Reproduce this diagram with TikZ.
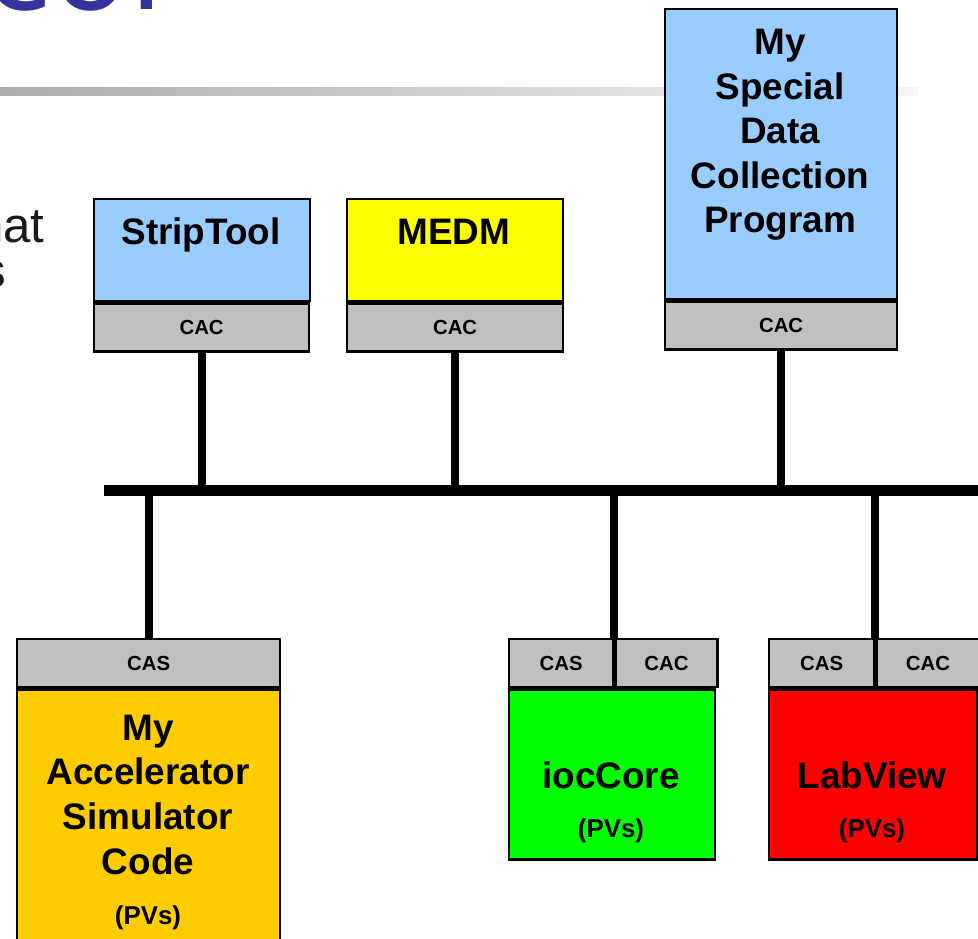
\documentclass[tikz,border=0pt]{standalone}
\usepackage{fontspec}
\setmainfont{Liberation Sans}
\newfontfamily\titlefont{DejaVu Sans}
\usetikzlibrary{positioning}
\definecolor{appblue}{HTML}{99CCFF}
\definecolor{appyellow}{HTML}{FFFF00}
\definecolor{apporange}{HTML}{FFCC00}
\definecolor{appgreen}{HTML}{00FF00}
\definecolor{appred}{HTML}{FF0000}
\definecolor{cagray}{HTML}{C0C0C0}
\definecolor{titleblue}{HTML}{333399}

\begin{document}
\begin{tikzpicture}[x=0.02cm, y=-0.02cm,
	app/.style={draw, line width=1.3pt, inner sep=0pt, anchor=north west},
	ca/.style={draw, line width=1.3pt, fill=cagray, inner sep=0pt, minimum height=0.96cm, anchor=north west, font=\bfseries\fontsize{11.6}{13}\selectfont},
	apptext/.style={font=\bfseries\fontsize{21}{25.4}\selectfont, align=center, inner sep=0pt, anchor=base},
	pvs/.style={font=\bfseries\fontsize{14.7}{17}\selectfont, inner sep=0pt, anchor=base},
	body/.style={font=\fontsize{28}{33}\selectfont, text=black!90, inner sep=0pt, anchor=base east},
	wire/.style={line width=4.5pt},
	bus/.style={line width=6.2pt}]
		\useasboundingbox (0,0) rectangle (978,939);
		\clip (0,0) rectangle (978,939);

		% slide title and text, cut off at the edges
		\shade[left color=gray!65, right color=gray!7] (0,88) rectangle (918,96);
		\node[font=\titlefont\fontsize{71}{80}\selectfont, text=titleblue, inner sep=0pt, anchor=base east] (title) at (164,9.5) {col};
		\node[body] (body1) at (45,243) {that};
		\node[body] (body2) at (6,288) {s};

		% clients
		\node[app, fill=appblue, minimum width=4.32cm, minimum height=2.04cm] (strip) at (93,198) {};
		\node[ca, minimum width=4.3cm] (stripcac) at (strip.south west) {CAC};
		\node[apptext] (striptxt) at (201,245) {StripTool};

		\node[app, fill=appyellow, minimum width=4.32cm, minimum height=2.04cm] (medm) at (346,198) {};
		\node[ca, minimum width=4.32cm] (medmcac) at (medm.south west) {CAC};
		\node[apptext] (medmtxt) at (454,245) {MEDM};

		\node[app, fill=appblue, minimum width=4.64cm, minimum height=5.8cm] (dcp) at (664,8) {};
		\node[ca, minimum width=4.64cm] (dcpcac) at (dcp.south west) {CAC};
		% base of the last line
		\node[apptext] (dcptxt) at (780,233) {My\\Special\\Data\\Collection\\Program};

		% servers
		\node[ca, minimum width=5.26cm] (simcas) at (16,638) {CAS};
		\node[app, fill=apporange, minimum width=5.26cm, minimum height=5.2cm] (sim) at (simcas.south west) {};
		\node[apptext] (simtxt) at (148,874) {My\\Accelerator\\Simulator\\Code};
		\node[pvs] (simpvs) at (148,924) {(PVs)};

		\node[ca, minimum width=2.08cm] (ioccas) at (508,638) {CAS};
		\node[ca, minimum width=2.04cm] (ioccac) at (ioccas.north east) {CAC};
		\node[app, fill=appgreen, minimum width=4.12cm, minimum height=3.4cm] (ioc) at (ioccas.south west) {};
		\node[apptext] (ioctxt) at (611,788) {iocCore};
		\node[pvs] (iocpvs) at (611,837) {(PVs)};

		\node[ca, minimum width=2.1cm] (labcas) at (768,638) {CAS};
		\node[ca, minimum width=2.06cm] (labcac) at (labcas.north east) {CAC};
		\node[app, fill=appred, minimum width=4.16cm, minimum height=3.4cm] (lab) at (labcas.south west) {};
		\node[apptext] (labtxt) at (872,788) {LabView};
		\node[pvs] (labpvs) at (872,837) {(PVs)};

		% network
		\coordinate (busw) at (104,490.5);
		\coordinate (buse) at (990,490.5);
		\draw[bus] (busw) -- (buse);
		\draw[wire] (stripcac.south) -- (stripcac.south |- busw);
		\draw[wire] (medmcac.south) -- (medmcac.south |- busw);
		\draw[wire] (dcpcac.south) -- (dcpcac.south |- busw);
		\draw[wire] (simcas.north) -- (simcas.north |- busw);
		\draw[wire] (ioccas.north east) -- (ioccas.north east |- busw);
		\draw[wire] (labcas.north east) -- (labcas.north east |- busw);
	\end{tikzpicture}
\end{document}
